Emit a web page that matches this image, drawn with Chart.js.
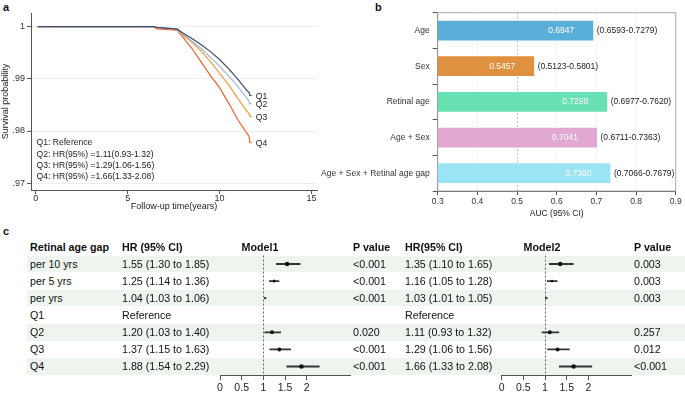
<!DOCTYPE html>
<html>
<head>
<meta charset="utf-8">
<script src="https://cdn.jsdelivr.net/npm/chart.js@4.4.1/dist/chart.umd.min.js"></script>
<style>
body { margin: 0; background: #fff; font-family: "Liberation Sans", Arial, sans-serif; }
#wrap { position: relative; width: 685px; height: 393px; overflow: hidden; background: #fff; }
canvas { position: absolute; }
.letter { position: absolute; font-weight: bold; font-size: 11px; line-height: 12px; color: #111; }
.cell { position: absolute; font-size: 10.7px; line-height: 14px; color: #111; white-space: nowrap; }
.head { font-weight: bold; }
.band { position: absolute; left: 27px; width: 658px; height: 16.4px; background: #EEF5EF; }
</style>
</head>
<body>
<div id="wrap">
  <div id="bands"></div>
  <div class="letter" style="left:3px;top:1px">a</div>
  <div class="letter" style="left:375px;top:1px">b</div>
  <div class="letter" style="left:3px;top:225px">c</div>
  <canvas id="kmChart" width="330" height="212" style="left:0;top:0"></canvas>
  <canvas id="aucChart" width="375" height="222" style="left:310px;top:0"></canvas>
  <canvas id="forest1" width="150" height="143" style="left:212px;top:250px"></canvas>
  <canvas id="forest2" width="150" height="143" style="left:494px;top:250px"></canvas>
  <div id="table"></div>
</div>
<script>
// Panel a - Kaplan-Meier curves by retinal age gap quartile
const kmTimes = [0.1, 6.4, 6.6, 7.7, 8.0, 8.5, 9.0, 9.5, 10.0, 10.5, 11.0, 11.5, 11.6, 11.65, 11.75];
const q1Surv = [1, 1, 0.99985, 0.9995, 0.99875, 0.9977, 0.9965, 0.9952, 0.9937, 0.9919, 0.9899, 0.9877, 0.9874, 0.9868, 0.9868];
const q2Surv = [1, 1, 0.99985, 0.9995, 0.9986, 0.9972, 0.9958, 0.9941, 0.9924, 0.9905, 0.9885, 0.9862, 0.9857, 0.9852, 0.9852];
const q3Surv = [1, 1, 0.9998, 0.9994, 0.9984, 0.9970, 0.9953, 0.9933, 0.9911, 0.9888, 0.9862, 0.9837, 0.9834, 0.9828, 0.9828];
const q4Surv = [1, 1, 0.99955, 0.9993, 0.9980, 0.9958, 0.9932, 0.9906, 0.9883, 0.9853, 0.9821, 0.9795, 0.9790, 0.9778, 0.9778];
const kmYTicks = [0.97, 0.98, 0.99, 1];
const kmXTicks = [0, 5, 10, 15];
const hrNotes = [
    'Q1: Reference',
    'Q2: HR(95%) =1.11(0.93-1.32)',
    'Q3: HR(95%) =1.29(1.06-1.56)',
    'Q4: HR(95%) =1.66(1.33-2.08)'
];

// Panel b - AUC
const aucModels = ['Age', 'Sex', 'Retinal age', 'Age + Sex', 'Age + Sex + Retinal age gap'];
const aucValues = [0.6947, 0.5457, 0.7298, 0.7041, 0.7380];
const aucLow = [0.6593, 0.5123, 0.6977, 0.6711, 0.7066];
const aucHigh = [0.7279, 0.5801, 0.7620, 0.7363, 0.7679];
const aucTicks = [0.3, 0.4, 0.5, 0.6, 0.7, 0.8, 0.9];

// Panel c - forest table
const gapRows = ['per 10 yrs', 'per 5 yrs', 'per yrs', 'Q1', 'Q2', 'Q3', 'Q4'];
const m1HR = [1.55, 1.25, 1.04, null, 1.20, 1.37, 1.88];
const m1Low = [1.30, 1.14, 1.03, null, 1.03, 1.15, 1.54];
const m1High = [1.85, 1.36, 1.06, null, 1.40, 1.63, 2.29];
const m1P = ['<0.001', '<0.001', '<0.001', '', '0.020', '<0.001', '<0.001'];
const m2HR = [1.35, 1.16, 1.03, null, 1.11, 1.29, 1.66];
const m2Low = [1.10, 1.05, 1.01, null, 0.93, 1.06, 1.33];
const m2High = [1.65, 1.28, 1.05, null, 1.32, 1.56, 2.08];
const m2P = ['0.003', '0.003', '0.003', '', '0.257', '0.012', '<0.001'];
const forestTicks = [0, 0.5, 1, 1.5, 2];

const FONT = '"Liberation Sans", Arial, sans-serif';
Chart.defaults.font.family = FONT;
Chart.defaults.animation = false;
Chart.defaults.plugins.legend.display = false;
Chart.defaults.plugins.tooltip.enabled = false;

// ---------- Panel a ----------
const kmColors = ['#3A4A6C', '#A4B9D4', '#F39B40', '#F2602C'];
const kmSeries = [q1Surv, q2Surv, q3Surv, q4Surv];

const kmLabels = {
    id: 'kmLabels',
    afterDatasetsDraw(chart) {
        const ctx = chart.ctx;
        const area = chart.chartArea;
        ctx.save();
        ctx.font = '8.6px ' + FONT;
        ctx.fillStyle = '#222';
        ctx.textBaseline = 'middle';
        chart.data.datasets.forEach((ds, i) => {
            const pts = chart.getDatasetMeta(i).data;
            const last = pts[pts.length - 1];
            ctx.fillText('Q' + (i + 1), last.x + 4, last.y + 1);
        });
        hrNotes.forEach((t, i) => {
            ctx.fillText(t, area.left + 5.5, area.bottom - 47 + i * 11.2);
        });
        ctx.restore();
    }
};

new Chart(document.getElementById('kmChart'), {
    type: 'line',
    data: {
        datasets: kmSeries.map((s, i) => ({
            data: kmTimes.map((t, j) => ({ x: t, y: s[j] })),
            borderColor: kmColors[i],
            borderWidth: 1.2,
            pointRadius: 0,
            tension: 0
        }))
    },
    options: {
        responsive: false,
        layout: { padding: { top: 13, right: 13, left: 0, bottom: 0 } },
        scales: {
            x: {
                type: 'linear', min: -0.26, max: 15.3,
                afterBuildTicks: s => { s.ticks = kmXTicks.map(v => ({ value: v })); },
                afterFit: s => { s.height = 22; },
                grid: { drawOnChartArea: false, tickLength: 4, color: '#555' },
                border: { color: '#555' },
                ticks: { font: { size: 9 }, color: '#333', padding: -1 },
                title: { display: true, text: 'Follow-up time(years)', font: { size: 9 }, color: '#222', padding: 0 }
            },
            y: {
                min: 0.9687, max: 1.0026,
                afterBuildTicks: s => { s.ticks = kmYTicks.map(v => ({ value: v })); },
                afterFit: s => { s.width = 31; },
                grid: { color: '#E9EFF2', tickColor: '#555', tickLength: 4 },
                border: { color: '#555' },
                ticks: {
                    font: { size: 9 }, color: '#333', padding: 2,
                    callback: v => v === 1 ? '1' : v.toFixed(2).replace(/^0/, '')
                },
                title: { display: true, text: 'Survival probability', font: { size: 9 }, color: '#222', padding: 0 }
            }
        }
    },
    plugins: [kmLabels]
});

// ---------- Panel b ----------
const aucColors = ['#5AAFD9', '#E0913F', '#68E2B2', '#E1A8D4', '#9AE4F4'];

const aucText = {
    id: 'aucText',
    beforeDatasetsDraw(chart) {
        const a = chart.chartArea;
        const ctx = chart.ctx;
        ctx.save();
        ctx.strokeStyle = '#AAAAAA';
        ctx.lineWidth = 1;
        ctx.strokeRect(a.left, a.top, a.right - a.left, a.bottom - a.top);
        ctx.restore();
    },
    afterDatasetsDraw(chart) {
        const ctx = chart.ctx;
        ctx.save();
        ctx.font = '8.5px ' + FONT;
        ctx.textBaseline = 'middle';
        chart.getDatasetMeta(0).data.forEach((bar, i) => {
            ctx.fillStyle = '#fff';
            ctx.textAlign = 'right';
            ctx.fillText(aucValues[i].toFixed(4), bar.x - 20, bar.y);
            ctx.fillStyle = '#222';
            ctx.textAlign = 'left';
            ctx.fillText('(' + aucLow[i].toFixed(4) + '-' + aucHigh[i].toFixed(4) + ')', bar.x + 2.5, bar.y);
        });
        ctx.restore();
    }
};

new Chart(document.getElementById('aucChart'), {
    type: 'bar',
    data: {
        labels: aucModels,
        datasets: [{
            data: aucValues,
            backgroundColor: aucColors,
            borderColor: 'rgba(255,255,255,0.35)',
            borderWidth: 1,
            barPercentage: 0.61,
            categoryPercentage: 1
        }]
    },
    options: {
        responsive: false,
        indexAxis: 'y',
        layout: { padding: { top: 12.7, right: 9.3, left: 0, bottom: 0 } },
        scales: {
            x: {
                min: 0.3, max: 0.9,
                afterBuildTicks: s => { s.ticks = aucTicks.map(v => ({ value: v })); },
                afterFit: s => { s.height = 31; },
                grid: {
                    color: c => Math.abs(c.tick.value - 0.5) < 1e-6 ? '#BDBDBD' : '#ECECEC',
                    tickColor: '#555', tickLength: 4
                },
                border: { color: '#555', dash: [2, 2] },
                ticks: { font: { size: 8.5 }, color: '#333', padding: 2, callback: v => v.toFixed(1) },
                title: { display: true, text: 'AUC (95% CI)', font: { size: 8.5 }, color: '#222', padding: { top: 0, bottom: 3 } }
            },
            y: {
                afterFit: s => { s.width = 127.7; },
                grid: { drawOnChartArea: false, tickColor: '#555', tickLength: 5 },
                border: { color: '#555' },
                ticks: { font: { size: 8.5 }, color: '#333', padding: 3 }
            }
        }
    },
    plugins: [aucText]
});

// ---------- Panel c ----------
const rowTop = 264;
const rowStep = 17.08;

const refLine = {
    id: 'refLine',
    beforeDatasetsDraw(chart) {
        const a = chart.chartArea;
        const x = chart.scales.x.getPixelForValue(1);
        const ctx = chart.ctx;
        ctx.save();
        ctx.strokeStyle = '#666';
        ctx.lineWidth = 1;
        ctx.setLineDash([2, 2]);
        ctx.beginPath();
        ctx.moveTo(Math.round(x) + 0.5, a.top);
        ctx.lineTo(Math.round(x) + 0.5, a.bottom);
        ctx.stroke();
        ctx.restore();
    }
};

function forestChart(id, hr, lo, hi, radii, padLeft, padRight) {
    return new Chart(document.getElementById(id), {
        type: 'bar',
        data: {
            labels: gapRows,
            datasets: [
                {
                    type: 'line',
                    data: hr,
                    showLine: false,
                    pointRadius: radii,
                    pointBackgroundColor: '#111',
                    pointBorderWidth: 0
                },
                {
                    data: lo.map((v, i) => v == null ? null : [v, hi[i]]),
                    backgroundColor: '#333',
                    barThickness: 1.2
                }
            ]
        },
        options: {
            responsive: false,
            indexAxis: 'y',
            layout: { padding: { top: 5.5, right: padRight, left: padLeft, bottom: 0 } },
            scales: {
                x: {
                    min: 0, max: 3,
                    afterBuildTicks: s => { s.ticks = forestTicks.map(v => ({ value: v })); },
                    afterFit: s => { s.height = 18; },
                    grid: { drawOnChartArea: false, tickColor: '#555', tickLength: 5 },
                    border: { color: '#555' },
                    ticks: { font: { size: 10.5 }, color: '#222', padding: 1.5, callback: v => String(v) }
                },
                y: { display: false }
            }
        },
        plugins: [refLine]
    });
}

forestChart('forest1', m1HR, m1Low, m1High, [2.2, 1.5, 0.9, 0, 2, 2, 2.3], 8, 12);
forestChart('forest2', m2HR, m2Low, m2High, [2.2, 1.3, 0.8, 0, 2, 2, 2.2], 7.7, 12.3);

// table text and shaded rows
const bands = document.getElementById('bands');
const table = document.getElementById('table');

function addCell(text, left, center, extraClass, width) {
    const d = document.createElement('div');
    d.className = 'cell' + (extraClass ? ' ' + extraClass : '');
    d.textContent = text;
    d.style.left = left + 'px';
    d.style.top = (center - 7) + 'px';
    if (width) { d.style.width = width + 'px'; d.style.textAlign = 'center'; }
    table.appendChild(d);
}

function hrText(hr, lo, hi) {
    return hr == null ? 'Reference' : hr.toFixed(2) + ' (' + lo.toFixed(2) + ' to ' + hi.toFixed(2) + ')';
}

const headY = 246.7;
addCell('Retinal age gap', 30, headY, 'head');
addCell('HR (95% CI)', 122, headY, 'head');
addCell('Model1', 225, headY, 'head', 70);
addCell('P value', 353, headY, 'head');
addCell('HR(95% CI)', 405, headY, 'head');
addCell('Model2', 507, headY, 'head', 70);
addCell('P value', 634, headY, 'head');

gapRows.forEach((name, i) => {
    const cy = rowTop + i * rowStep;
    if (i % 2 === 0) {
        const b = document.createElement('div');
        b.className = 'band';
        b.style.top = (cy - 8.2) + 'px';
        bands.appendChild(b);
    }
    addCell(name, 30, cy);
    addCell(hrText(m1HR[i], m1Low[i], m1High[i]), 122, cy);
    addCell(m1P[i], 353, cy);
    addCell(hrText(m2HR[i], m2Low[i], m2High[i]), 405, cy);
    addCell(m2P[i], 634, cy);
});
</script>
</body>
</html>
